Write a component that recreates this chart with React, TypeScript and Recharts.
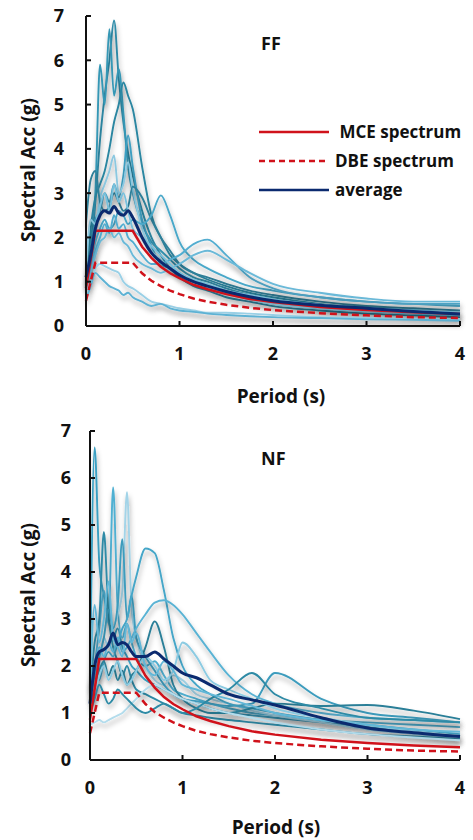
import { LineChart, Line, XAxis, YAxis, Legend } from "recharts";

// periods (s) shared by every spectrum
const PERIODS = [0, 0.05, 0.1, 0.15, 0.2, 0.25, 0.3, 0.35, 0.4, 0.45, 0.5, 0.6, 0.7, 0.8, 0.9, 1.0, 1.15, 1.3, 1.5, 1.75, 2.0, 2.5, 3.0, 3.5, 4.0];

const X_TICKS = [0, 1, 2, 3, 4];
const Y_TICKS = [0, 1, 2, 3, 4, 5, 6, 7];

// code spectra (g)
const MCE = [0.86, 1.5, 2.15, 2.15, 2.15, 2.15, 2.15, 2.15, 2.15, 2.15, 2.15, 1.79, 1.54, 1.34, 1.19, 1.08, 0.93, 0.83, 0.72, 0.61, 0.54, 0.43, 0.36, 0.31, 0.27];
const DBE = [0.57, 1.0, 1.43, 1.43, 1.43, 1.43, 1.43, 1.43, 1.43, 1.43, 1.43, 1.19, 1.02, 0.9, 0.8, 0.72, 0.62, 0.55, 0.48, 0.41, 0.36, 0.29, 0.24, 0.2, 0.18];

// far-fault records
const FF_1 = [0.9, 1.6, 2.8, 4.2, 5.2, 6.0, 6.9, 5.6, 4.6, 3.9, 3.4, 2.6, 2.0, 1.6, 1.3, 1.1, 0.9, 0.8, 0.65, 0.55, 0.45, 0.35, 0.28, 0.24, 0.2];
const FF_2 = [0.8, 1.9, 3.0, 5.9, 5.0, 6.7, 5.2, 5.8, 4.8, 3.6, 3.0, 2.3, 1.9, 1.7, 1.5, 1.3, 1.1, 1.0, 0.85, 0.7, 0.6, 0.45, 0.38, 0.32, 0.28];
const FF_3 = [1.0, 2.2, 2.9, 3.2, 3.5, 4.0, 4.6, 5.0, 5.5, 5.2, 4.9, 3.6, 2.5, 2.0, 1.6, 1.4, 1.2, 1.05, 0.9, 0.75, 0.65, 0.5, 0.42, 0.36, 0.3];
const FF_4 = [0.9, 1.5, 2.4, 2.6, 3.0, 2.8, 3.2, 2.9, 3.4, 4.3, 3.6, 2.4, 1.8, 1.4, 1.3, 1.2, 1.0, 0.9, 0.75, 0.6, 0.5, 0.4, 0.33, 0.28, 0.24];
const FF_5 = [1.2, 2.4, 2.3, 2.9, 3.2, 3.5, 3.85, 3.0, 3.2, 3.7, 3.1, 2.2, 1.7, 1.5, 1.3, 1.15, 1.0, 0.85, 0.72, 0.6, 0.5, 0.4, 0.34, 0.3, 0.26];
const FF_6 = [2.3, 3.3, 3.5, 2.8, 2.6, 2.7, 3.0, 2.8, 2.6, 2.7, 3.15, 2.9, 2.4, 2.0, 1.7, 1.4, 1.2, 1.1, 0.95, 0.8, 0.7, 0.55, 0.45, 0.4, 0.35];
const FF_7 = [1.0, 1.4, 1.9, 2.2, 2.4, 2.2, 2.3, 2.6, 2.5, 2.3, 2.4, 2.3, 2.5, 2.95, 2.5, 1.9, 1.5, 1.3, 1.1, 0.9, 0.8, 0.65, 0.55, 0.5, 0.45];
const FF_8 = [1.0, 1.3, 1.7, 2.0, 2.3, 2.1, 2.5, 2.2, 2.3, 2.0, 1.9, 1.6, 1.4, 1.4, 1.5, 1.6, 1.85, 1.95, 1.6, 1.1, 0.85, 0.65, 0.55, 0.5, 0.5];
const FF_9 = [0.9, 1.2, 1.6, 1.9, 2.0, 2.2, 2.0, 2.1, 1.9, 1.8, 1.6, 1.4, 1.3, 1.2, 1.3, 1.4, 1.6, 1.7, 1.5, 1.2, 0.95, 0.75, 0.62, 0.55, 0.55];
const FF_10 = [0.8, 1.0, 1.3, 1.4, 1.35, 1.3, 1.25, 1.2, 1.0, 0.9, 0.85, 0.7, 0.55, 0.5, 0.45, 0.4, 0.35, 0.3, 0.3, 0.28, 0.25, 0.2, 0.18, 0.16, 0.15];
const FF_11 = [0.6, 0.9, 1.2, 1.1, 1.0, 0.9, 0.85, 0.8, 0.7, 0.75, 0.65, 0.55, 0.45, 0.5, 0.4, 0.35, 0.32, 0.28, 0.25, 0.22, 0.2, 0.18, 0.15, 0.14, 0.12];
const FF_12 = [1.1, 1.6, 2.2, 2.7, 3.0, 2.6, 3.2, 2.8, 3.0, 2.6, 2.2, 2.0, 1.8, 1.6, 1.4, 1.2, 1.05, 0.95, 0.8, 0.7, 0.6, 0.48, 0.4, 0.35, 0.3];
const FF_AVG = [1.1, 1.6, 2.2, 2.5, 2.6, 2.55, 2.7, 2.55, 2.5, 2.6, 2.45, 2.0, 1.65, 1.45, 1.3, 1.15, 1.0, 0.9, 0.78, 0.66, 0.57, 0.47, 0.4, 0.33, 0.27];

// near-fault records
const NF_1 = [1.5, 6.65, 4.2, 3.5, 3.0, 2.6, 2.8, 2.4, 2.2, 2.0, 1.9, 1.7, 1.6, 1.5, 1.4, 1.3, 1.2, 1.1, 1.0, 0.95, 0.9, 0.8, 0.7, 0.6, 0.5];
const NF_2 = [1.3, 2.0, 2.8, 3.6, 2.9, 5.8, 3.2, 2.6, 2.9, 2.5, 2.2, 2.0, 2.1, 1.8, 1.5, 1.4, 1.3, 1.2, 1.1, 1.0, 0.95, 0.85, 0.8, 0.75, 0.7];
const NF_3 = [1.2, 1.5, 2.0, 2.6, 2.4, 2.8, 3.1, 3.6, 5.7, 3.2, 2.6, 2.0, 1.7, 1.6, 1.8, 1.7, 1.4, 1.3, 1.2, 1.05, 0.95, 0.8, 0.65, 0.55, 0.45];
const NF_4 = [1.4, 2.5, 3.0, 4.85, 3.1, 2.4, 2.1, 1.8, 2.0, 1.7, 1.5, 1.4, 1.3, 1.2, 1.1, 1.0, 0.95, 0.9, 0.85, 0.8, 0.75, 0.65, 0.55, 0.5, 0.45];
const NF_5 = [1.3, 1.8, 2.2, 2.6, 3.2, 2.8, 3.3, 4.7, 3.0, 3.5, 2.6, 2.2, 1.9, 1.6, 1.4, 1.3, 1.25, 1.2, 1.15, 1.2, 1.85, 1.3, 1.0, 0.9, 0.8];
const NF_6 = [1.5, 1.9, 1.7, 2.1, 2.3, 2.2, 2.5, 2.8, 3.0, 3.5, 3.9, 4.5, 4.4, 3.6, 2.6, 2.0, 1.6, 1.4, 1.2, 1.1, 1.0, 0.85, 0.75, 0.65, 0.55];
const NF_7 = [1.6, 2.0, 2.4, 2.2, 2.5, 2.3, 2.6, 2.3, 2.4, 2.6, 2.8, 3.1, 3.35, 3.4, 3.3, 3.1, 2.7, 2.3, 1.8, 1.4, 1.2, 1.0, 0.9, 0.85, 0.8];
const NF_8 = [1.2, 1.5, 1.9, 2.1, 1.8, 2.0, 1.7, 1.9, 1.6, 1.8, 1.9, 2.4, 2.95, 2.4, 1.6, 1.3, 1.1, 1.0, 1.0, 1.1, 1.2, 1.15, 1.17, 1.05, 0.87];
const NF_9 = [1.1, 1.4, 1.8, 2.0, 1.7, 1.9, 2.1, 1.8, 1.6, 1.7, 1.9, 2.2, 2.0, 1.7, 1.9, 2.5, 2.2, 1.7, 1.5, 1.3, 1.1, 0.9, 0.75, 0.6, 0.5];
const NF_10 = [0.75, 0.8, 0.85, 0.8, 0.85, 0.9, 0.95, 1.0, 1.1, 1.2, 1.3, 1.5, 1.6, 1.5, 1.4, 1.3, 1.2, 1.1, 1.0, 0.9, 0.8, 0.65, 0.55, 0.48, 0.42];
const NF_11 = [1.0, 1.3, 1.6, 1.4, 1.2, 1.3, 1.5, 1.4, 1.3, 1.2, 1.1, 1.0, 1.1, 1.2, 1.1, 1.0, 1.1, 1.3, 1.5, 1.85, 1.4, 1.1, 0.9, 0.85, 0.8];
const NF_12 = [1.3, 3.3, 2.5, 3.0, 3.8, 2.6, 2.4, 2.2, 2.9, 2.5, 2.7, 2.0, 1.8, 2.1, 1.9, 1.6, 1.5, 1.4, 1.3, 1.15, 1.0, 0.85, 0.75, 0.65, 0.6];
const NF_AVG = [1.2, 2.0, 2.3, 2.35, 2.45, 2.7, 2.45, 2.5, 2.45, 2.3, 2.2, 2.2, 2.3, 2.15, 2.0, 1.85, 1.75, 1.6, 1.4, 1.28, 1.17, 0.9, 0.68, 0.58, 0.5];

const FF_RECORDS = [FF_1, FF_2, FF_3, FF_4, FF_5, FF_6, FF_7, FF_8, FF_9, FF_10, FF_11, FF_12];
const NF_RECORDS = [NF_1, NF_2, NF_3, NF_4, NF_5, NF_6, NF_7, NF_8, NF_9, NF_10, NF_11, NF_12];

const FF_COLORS = ["#2d8ba8", "#3597b5", "#2a86a1", "#3e9fc2", "#8cc8e0", "#2f7f99", "#4aa8c9", "#52add0", "#6bb9d8", "#9ad0e6", "#5db2d4", "#78c0dc"];
const NF_COLORS = ["#3a9fc2", "#4fb0d2", "#a3d4e8", "#2f8aa6", "#3d9cbd", "#45a6c8", "#5ab3d4", "#2b7f98", "#8ccbe2", "#b3dcec", "#2e8aa5", "#62b7d7"];

const RED = "#d0121b";
const NAVY = "#0b2a6f";
const FONT = "'Open Sans', Lato, sans-serif";

const LEGEND_ITEMS = [
  { label: " MCE spectrum", color: RED, dash: undefined },
  { label: "DBE spectrum", color: RED, dash: "6 4" },
  { label: "average", color: NAVY, dash: undefined },
];

function buildRows(records: number[][], avg: number[]) {
  return PERIODS.map((t, i) => {
    const row: Record<string, number> = { T: t, mce: MCE[i], dbe: DBE[i], avg: avg[i] };
    records.forEach((r, k) => {
      row[`r${k}`] = r[i];
    });
    return row;
  });
}

const tickStyle = { fill: "#111", fontSize: 18, fontWeight: 700, fontFamily: FONT };
const axisStroke = { stroke: "#111", strokeWidth: 2 };
const labelFont = { fontFamily: FONT, fontWeight: 700, fontSize: 18, color: "#111" };

function renderLegend() {
  return (
    <div style={{ ...labelFont, fontSize: 17 }}>
      {LEGEND_ITEMS.map((it) => (
        <div key={it.label} style={{ display: "flex", alignItems: "center", height: 29, whiteSpace: "pre" }}>
          <svg width={70} height={6} style={{ marginRight: 6 }}>
            <line x1={0} y1={3} x2={70} y2={3} stroke={it.color} strokeWidth={2.5} strokeDasharray={it.dash} />
          </svg>
          <span>{it.label}</span>
        </div>
      ))}
    </div>
  );
}

function Panel({
  top,
  height,
  rows,
  colors,
  title,
  margin,
  yTickMargin,
  yLabelY,
  xLabelY,
  xLabelX,
  titleY,
  legend,
}: {
  top: number;
  height: number;
  rows: Record<string, number>[];
  colors: string[];
  title: string;
  margin: { top: number; right: number; bottom: number; left: number };
  yTickMargin: number;
  yLabelY: number;
  xLabelY: number;
  xLabelX: number;
  titleY: number;
  legend?: boolean;
}) {
  return (
    <div style={{ position: "absolute", left: 0, top, width: 473, height }}>
      <LineChart width={473} height={height} data={rows} margin={margin}>
        <XAxis
          type="number"
          dataKey="T"
          domain={[0, 4]}
          ticks={X_TICKS}
          interval={0}
          height={60}
          tickSize={-5}
          tickMargin={26}
          axisLine={axisStroke}
          tickLine={axisStroke}
          tick={tickStyle}
        />
        <YAxis
          type="number"
          domain={[0, 7]}
          ticks={Y_TICKS}
          interval={0}
          width={60}
          tickSize={-5}
          tickMargin={yTickMargin}
          axisLine={axisStroke}
          tickLine={axisStroke}
          tick={tickStyle}
        />
        {colors.map((c, k) => (
          <Line
            key={k}
            dataKey={`r${k}`}
            type="monotone"
            stroke={c}
            strokeWidth={1.9}
            dot={false}
            activeDot={false}
            filter="url(#lineShadow)"
            isAnimationActive={false}
          />
        ))}
        <Line dataKey="dbe" type="linear" stroke={RED} strokeWidth={2.5} strokeDasharray="7 4" dot={false} activeDot={false} isAnimationActive={false} />
        <Line dataKey="mce" type="linear" stroke={RED} strokeWidth={2.5} dot={false} activeDot={false} isAnimationActive={false} />
        <Line dataKey="avg" type="monotone" stroke={NAVY} strokeWidth={3} dot={false} activeDot={false} isAnimationActive={false} />
        {legend && (
          <Legend
            layout="vertical"
            align="center"
            verticalAlign="middle"
            content={renderLegend}
            wrapperStyle={{ left: 259, top: 117, width: 214 }}
          />
        )}
      </LineChart>
      <div style={{ ...labelFont, position: "absolute", left: 261, top: titleY - 12, lineHeight: "24px" }}>{title}</div>
      <div
        style={{
          ...labelFont,
          fontSize: 19,
          position: "absolute",
          left: 28,
          top: yLabelY,
          transform: "translate(-50%, -50%) rotate(-90deg)",
          whiteSpace: "nowrap",
        }}
      >
        Spectral Acc (g)
      </div>
      <div
        style={{
          ...labelFont,
          fontSize: 19,
          position: "absolute",
          left: xLabelX,
          top: xLabelY,
          transform: "translate(-50%, -50%)",
          whiteSpace: "nowrap",
        }}
      >
        Period (s)
      </div>
    </div>
  );
}

export default function App() {
  const ffRows = buildRows(FF_RECORDS, FF_AVG);
  const nfRows = buildRows(NF_RECORDS, NF_AVG);
  return (
    <div style={{ position: "absolute", left: 0, top: 0, width: 473, height: 840, background: "#fff" }}>
      <svg width={0} height={0} style={{ position: "absolute" }}>
        <defs>
          <filter id="lineShadow" x="-5%" y="-10%" width="110%" height="130%">
            <feDropShadow dx="1" dy="4" stdDeviation="2.4" floodColor="#000" floodOpacity="0.32" />
          </filter>
        </defs>
      </svg>
      <Panel
        top={0}
        height={410}
        rows={ffRows}
        colors={FF_COLORS}
        title="FF"
        margin={{ top: 16, right: 13, bottom: 24, left: 26 }}
        yTickMargin={27}
        yLabelY={170}
        xLabelY={396}
        xLabelX={281}
        titleY={43}
        legend
      />
      <Panel
        top={410}
        height={430}
        rows={nfRows}
        colors={NF_COLORS}
        title="NF"
        margin={{ top: 21, right: 13, bottom: 20, left: 30 }}
        yTickMargin={24}
        yLabelY={185}
        xLabelY={417}
        xLabelX={276}
        titleY={48}
      />
    </div>
  );
}
